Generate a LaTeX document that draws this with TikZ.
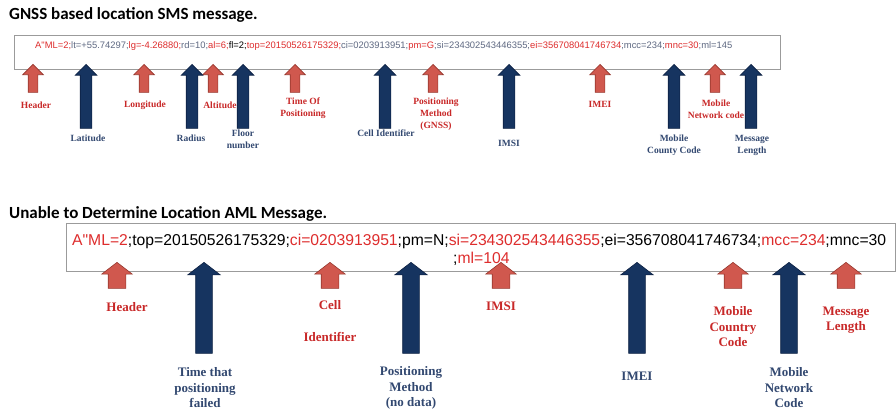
\documentclass[tikz,border=0pt]{standalone}
\usepackage{fontspec}
\setmainfont{Liberation Serif}
\newfontfamily\msgfont{Liberation Sans}
\newfontfamily\headfont{Carlito}
\usetikzlibrary{shapes.arrows,positioning}
\definecolor{labred}{RGB}{200,40,40}
\definecolor{labblue}{RGB}{50,72,112}
\definecolor{ptrred}{RGB}{208,88,78}
\definecolor{ptrredline}{RGB}{150,55,45}
\definecolor{ptrblue}{RGB}{22,52,96}
\definecolor{ptrblueline}{RGB}{12,32,66}
\definecolor{msgred}{RGB}{222,45,45}
\definecolor{msggray}{RGB}{95,105,130}
\definecolor{boxline}{RGB}{155,155,155}
\tikzset{
  heading/.style={anchor=west, inner sep=0pt, font=\headfont\bfseries\fontsize{17}{19}\selectfont},
  msgbox/.style={draw=boxline, line width=1pt, fill=white, inner sep=0pt},
  % block arrows pointing at the message fields
  ptr/.style={single arrow, shape border rotate=90, anchor=tip, line width=0.6pt},
  redptr/.style={ptr, fill=ptrred, draw=ptrredline},
  blueptr/.style={ptr, fill=ptrblue, draw=ptrblueline},
  gred/.style={redptr, inner sep=4.5pt, minimum height=28pt, minimum width=20pt, single arrow head extend=5.5pt},
  gblue/.style={blueptr, inner sep=5.5pt, minimum height=64pt, minimum width=21pt, single arrow head extend=5pt},
  ured/.style={redptr, inner sep=8.5pt, minimum height=26pt, minimum width=30pt, single arrow head extend=6.5pt, single arrow tip angle=105},
  ublue/.style={blueptr, inner sep=8pt, minimum height=91pt, minimum width=32pt, single arrow head extend=8pt, single arrow tip angle=105},
  % field labels
  tlab/.style={inner sep=0pt, align=center, font=\bfseries\fontsize{9.5}{11.8}\selectfont},
  tlr/.style={tlab, text=labred},
  tlb/.style={tlab, text=labblue},
  blab/.style={inner sep=0pt, align=center, font=\bfseries\fontsize{13}{15.5}\selectfont},
  blr/.style={blab, text=labred},
  blb/.style={blab, text=labblue},
}
\begin{document}
\begin{tikzpicture}[x=1pt, y=-1pt]
\useasboundingbox (0,0) rectangle (896,409);

%% GNSS based location message
\node[heading] (head1) at (9,15) {GNSS based location SMS message.};
\node[msgbox, minimum width=766pt, minimum height=34pt] (gbox) at (397,53) {};
\node[anchor=west, inner sep=0pt, font=\msgfont\fontsize{9.4}{11}\selectfont] (gmsg) at (35,46)
  {\textcolor{msgred}{A"ML=2;}\textcolor{msggray}{lt=+55.74297;}\textcolor{msgred}{lg=-4.26880;}\textcolor{msggray}{rd=10;}\textcolor{msgred}{al=6;}fl=2;\textcolor{msgred}{top=20150526175329;}\textcolor{msggray}{ci=0203913951;}\textcolor{msgred}{pm=G}\textcolor{msggray}{;si=234302543446355;}\textcolor{msgred}{ei=356708041746734}\textcolor{msggray}{;mcc=234;}\textcolor{msgred}{mnc=30}\textcolor{msggray}{;ml=145}};

\node[tlr] (lHeader) at (36,105) {Header};
\node[tlb] (lLat) at (88,138) {Latitude};
\node[tlr] (lLong) at (145,105) {Longitude};
\node[tlb] (lRad) at (191,138) {Radius};
\node[tlr] (lAlt) at (220,105) {Altitude};
\node[tlb] (lFloor) at (243,139) {Floor\\number};
\node[tlr] (lTop) at (303,108) {Time Of\\Positioning};
\node[tlb] (lCell) at (386,133) {Cell Identifier};
\node[tlr] (lPm) at (436,114) {Positioning\\Method\\(GNSS)};
\node[tlb] (lImsi) at (509,143) {IMSI};
\node[tlr] (lImei) at (600,104) {IMEI};
\node[tlb] (lMcc) at (674,145.5) {Mobile\\County Code};
\node[tlr] (lMnc) at (716,109.5) {Mobile\\Network code};
\node[tlb] (lMl) at (752,145.5) {Message\\Length};

\foreach \x/\n in {33/hdr,144/lg,213/al,295/top,433/pm,600/ei,715/mnc}
  \node[gred] (g\n) at (\x,64) {};
\foreach \x/\n in {86/lt,192/rd,243/fl,385/ci,509/si,674/mcc,751/ml}
  \node[gblue] (g\n) at (\x,64) {};

%% Unable to determine location message
\node[heading] (head2) at (9,214) {Unable to Determine Location AML Message.};
\node[msgbox, minimum width=829pt, minimum height=48pt] (ubox) at (480.5,247) {};
\node[anchor=west, inner sep=0pt, font=\msgfont\fontsize{15.7}{17}\selectfont] (umsg) at (72,241)
  {\textcolor{msgred}{A"ML=2};top=20150526175329;\textcolor{msgred}{ci=0203913951};pm=N;\textcolor{msgred}{si=234302543446355};ei=356708041746734;\textcolor{msgred}{mcc=234};mnc=30};
\node[anchor=west, inner sep=0pt, font=\msgfont\fontsize{15.7}{17}\selectfont] (umsgb) at (453,259)
  {;\textcolor{msgred}{ml=104}};

\node[blr] (uHeader) at (127,307) {Header};
\node[blr] (uCell) at (330,321) {Cell\\[16pt]Identifier};
\node[blr] (uImsi) at (501,306) {IMSI};
\node[blr] (uMcc) at (733,327) {Mobile\\Country\\Code};
\node[blr] (uMl) at (846,320) {Message\\Length};
\node[blb] (uTop) at (205,388) {Time that\\positioning\\failed};
\node[blb] (uPm) at (411,388) {Positioning\\Method\\(no data)};
\node[blb] (uImei) at (637,376) {IMEI};
\node[blb] (uMnc) at (789,388) {Mobile\\Network\\Code};

\foreach \x/\n in {117/hdr,330/ci,501/si,733/mcc,846/ml}
  \node[ured] (u\n) at (\x,262) {};
\foreach \x/\n in {204/top,411/pm,637/ei,789/mnc}
  \node[ublue] (u\n) at (\x,262) {};
\end{tikzpicture}
\end{document}
